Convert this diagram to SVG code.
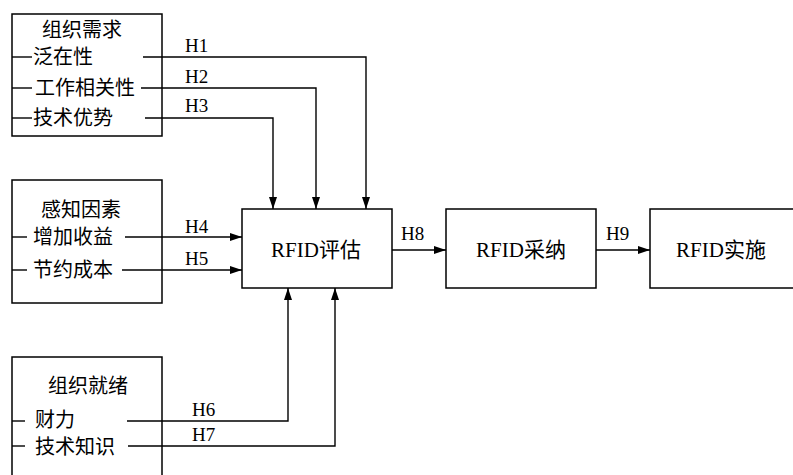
<svg xmlns="http://www.w3.org/2000/svg" width="793" height="475" viewBox="0 0 793 475">
<style>
.box{fill:#fff;stroke:#000;stroke-width:1.5}
.ln{fill:none;stroke:#000;stroke-width:1.4}
.cn{font-family:"Noto Sans CJK SC","Liberation Serif",serif;font-size:20px;fill:#000}
.lb{font-family:"Liberation Serif","Noto Sans CJK SC",serif;font-size:19px;fill:#000}
.mx{font-family:"Liberation Serif","Noto Sans CJK SC",serif;font-size:21px;fill:#000}
</style>
<defs>
<marker id="ah" viewBox="0 0 12 8" refX="12" refY="4" markerWidth="13" markerHeight="8" markerUnits="userSpaceOnUse" orient="auto">
<path d="M0,0 L12,4 L0,8 Z" fill="#000"/>
</marker>
</defs>
<rect width="793" height="475" fill="#fff"/>
<g id="node-need">
<rect class="box" x="12" y="14" width="150" height="122"/>
<text class="cn" x="82" y="37" text-anchor="middle">组织需求</text>
<line class="ln" x1="12" y1="57" x2="32" y2="57"/>
<text class="cn" x="33" y="64">泛在性</text>
<line class="ln" x1="12" y1="88" x2="32" y2="88"/>
<text class="cn" x="35" y="95">工作相关性</text>
<line class="ln" x1="12" y1="118" x2="32" y2="118"/>
<text class="cn" x="33" y="125">技术优势</text>
</g>
<g id="node-perceive">
<rect class="box" x="12" y="180" width="150" height="123"/>
<text class="cn" x="81" y="217" text-anchor="middle">感知因素</text>
<line class="ln" x1="12" y1="237" x2="27" y2="237"/>
<text class="cn" x="33" y="244">增加收益</text>
<line class="ln" x1="12" y1="270" x2="27" y2="270"/>
<text class="cn" x="33" y="277">节约成本</text>
</g>
<g id="node-ready">
<rect class="box" x="12" y="357" width="150" height="130"/>
<text class="cn" x="88" y="393" text-anchor="middle">组织就绪</text>
<line class="ln" x1="12" y1="421" x2="25" y2="421"/>
<text class="cn" x="35" y="427">财力</text>
<line class="ln" x1="12" y1="446" x2="25" y2="446"/>
<text class="cn" x="35" y="454">技术知识</text>
</g>
<g id="node-eval">
<rect class="box" x="242" y="209" width="150" height="79"/>
<text class="mx" x="316" y="257" text-anchor="middle">RFID评估</text>
</g>
<g id="node-adopt">
<rect class="box" x="446" y="209" width="150" height="79"/>
<text class="mx" x="521" y="257" text-anchor="middle">RFID采纳</text>
</g>
<g id="node-impl">
<rect class="box" x="650" y="209" width="160" height="79"/>
<text class="mx" x="721" y="257" text-anchor="middle">RFID实施</text>
</g>
<g id="connectors">
<polyline class="ln" points="143,57 366,57 366,209" marker-end="url(#ah)"/>
<polyline class="ln" points="141,88 316,88 316,209" marker-end="url(#ah)"/>
<polyline class="ln" points="145,118 273,118 273,209" marker-end="url(#ah)"/>
<line class="ln" x1="125" y1="237" x2="242" y2="237" marker-end="url(#ah)"/>
<line class="ln" x1="122" y1="270" x2="242" y2="270" marker-end="url(#ah)"/>
<polyline class="ln" points="127,421 288,421 288,288" marker-end="url(#ah)"/>
<polyline class="ln" points="128,446 335,446 335,288" marker-end="url(#ah)"/>
<line class="ln" x1="392" y1="250" x2="446" y2="250" marker-end="url(#ah)"/>
<line class="ln" x1="596" y1="250" x2="650" y2="250" marker-end="url(#ah)"/>
<text class="lb" x="185" y="52">H1</text>
<text class="lb" x="185" y="83">H2</text>
<text class="lb" x="185" y="112">H3</text>
<text class="lb" x="185" y="233">H4</text>
<text class="lb" x="185" y="265">H5</text>
<text class="lb" x="192" y="416">H6</text>
<text class="lb" x="192" y="441">H7</text>
<text class="lb" x="401" y="240">H8</text>
<text class="lb" x="606" y="240">H9</text>
</g>
</svg>
